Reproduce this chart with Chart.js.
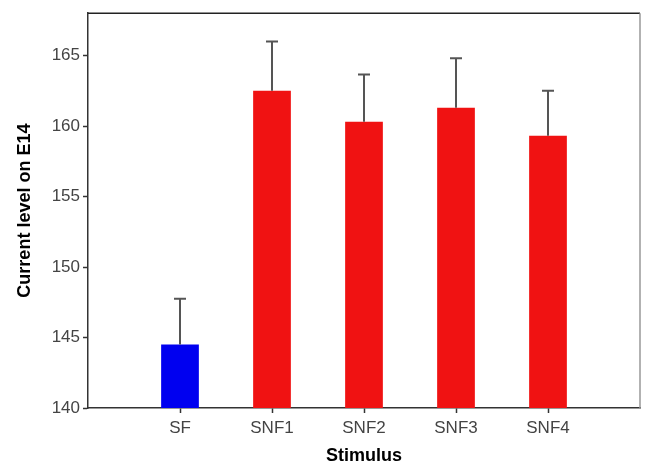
<!DOCTYPE html>
<html>
<head>
<meta charset="utf-8">
<script src="https://cdn.jsdelivr.net/npm/chart.js@4.4.0/dist/chart.umd.min.js"></script>
<style>
html,body{margin:0;padding:0;background:#fff;}
#wrap{width:646px;height:463px;position:relative;}
</style>
</head>
<body>
<div id="wrap"><canvas id="c" width="646" height="463"></canvas></div>
<script>
const categories = ['', 'SF', 'SNF1', 'SNF2', 'SNF3', 'SNF4', ''];
const means = [null, 144.5, 162.5, 160.3, 161.3, 159.3, null];
const errTops = [null, 147.75, 166.0, 163.65, 164.8, 162.5, null];
const barColors = ['#0000f0', '#0000f0', '#f01212', '#f01212', '#f01212', '#f01212', '#f01212'];
const yTicks = [140, 145, 150, 155, 160, 165];

const errorBars = {
  id: 'errorBars',
  afterDatasetsDraw(chart) {
    const ctx = chart.ctx;
    const meta = chart.getDatasetMeta(0);
    const y = chart.scales.y;
    ctx.save();
    ctx.strokeStyle = '#555';
    ctx.lineWidth = 2;
    meta.data.forEach((bar, i) => {
      if (errTops[i] == null) return;
      const x = bar.x;
      const yTop = y.getPixelForValue(errTops[i]);
      const yBase = bar.y;
      ctx.beginPath();
      ctx.moveTo(x, yBase);
      ctx.lineTo(x, yTop);
      ctx.moveTo(x - 6, yTop);
      ctx.lineTo(x + 6, yTop);
      ctx.stroke();
    });
    ctx.restore();
  }
};

const frame = {
  id: 'frame',
  afterDraw(chart) {
    const a = chart.chartArea;
    const ctx = chart.ctx;
    ctx.save();
    ctx.lineWidth = 1.5;
    ctx.strokeStyle = '#222';
    ctx.beginPath();
    ctx.moveTo(a.left, a.top);
    ctx.lineTo(a.right, a.top);
    ctx.stroke();
    ctx.strokeStyle = '#999';
    ctx.lineWidth = 1.5;
    ctx.beginPath();
    ctx.moveTo(a.right, a.top);
    ctx.lineTo(a.right, a.bottom);
    ctx.stroke();
    ctx.restore();
  }
};

new Chart(document.getElementById('c'), {
  type: 'bar',
  data: {
    labels: categories,
    datasets: [{
      data: means,
      backgroundColor: barColors,
      borderWidth: 0,
      barPercentage: 0.41,
      categoryPercentage: 1.0
    }]
  },
  options: {
    responsive: false,
    animation: false,
    devicePixelRatio: 1,
    layout: { padding: { top: 12, right: 6, left: 0, bottom: 0 } },
    plugins: { legend: { display: false }, tooltip: { enabled: false } },
    scales: {
      x: {
        offset: false,
        grid: {
          offset: false,
          drawOnChartArea: false,
          tickLength: 5,
          tickColor: (c) => (c.index === 0 || c.index === categories.length - 1) ? 'rgba(0,0,0,0)' : '#333',
          tickWidth: 1.5
        },
        border: { color: '#333', width: 1.5 },
        ticks: {
          color: '#444',
          font: { family: 'Liberation Sans, Arial, sans-serif', size: 17 },
          padding: 5,
          autoSkip: false,
          maxRotation: 0
        },
        title: {
          display: true,
          text: 'Stimulus',
          color: '#000',
          font: { family: 'Liberation Sans, Arial, sans-serif', size: 18, weight: 'bold' },
          padding: { top: 4, bottom: -4 }
        },
        afterFit: (s) => { s.height = 55; }
      },
      y: {
        min: 140,
        max: 168,
        afterBuildTicks: (s) => { s.ticks = yTicks.map(v => ({ value: v })); },
        grid: { drawOnChartArea: false, tickLength: 5, tickColor: '#333', tickWidth: 1.5 },
        border: { color: '#333', width: 1.5 },
        ticks: {
          color: '#444',
          font: { family: 'Liberation Sans, Arial, sans-serif', size: 17 },
          padding: 3
        },
        title: {
          display: true,
          text: 'Current level on E14',
          color: '#000',
          font: { family: 'Liberation Sans, Arial, sans-serif', size: 18, weight: 'bold' },
          padding: { top: 14, bottom: 4 }
        },
        afterFit: (s) => { s.width = 88; }
      }
    }
  },
  plugins: [errorBars, frame]
});
</script>
</body>
</html>
